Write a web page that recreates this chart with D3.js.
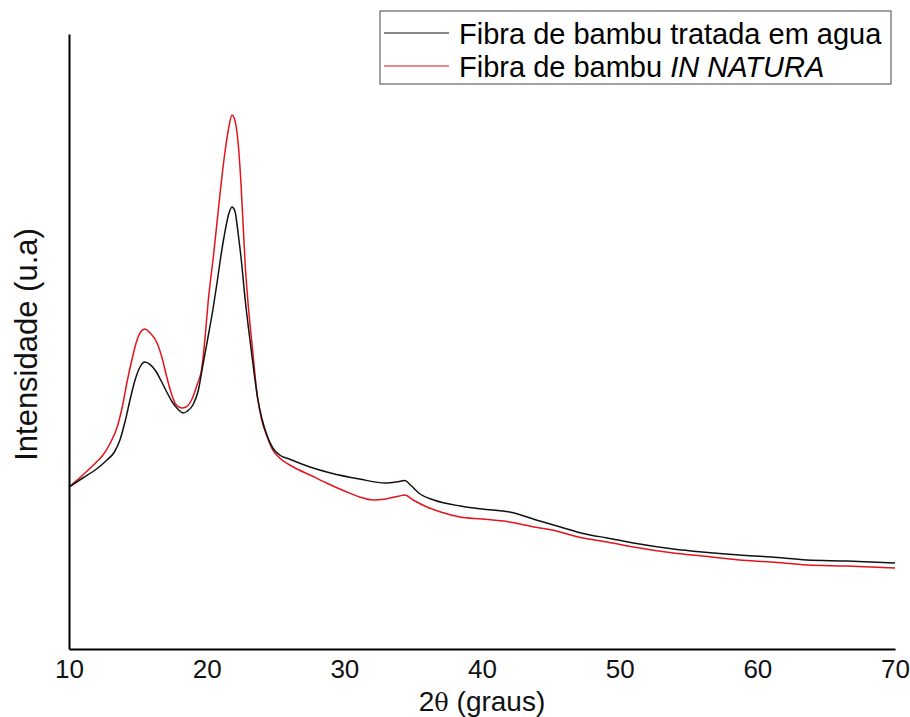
<!DOCTYPE html>
<html>
<head>
<meta charset="utf-8">
<script src="https://cdn.jsdelivr.net/npm/d3@7"></script>
<style>
    body { margin: 0; background: #fff; }
    svg { display: block; font-family: "Liberation Sans", Arial, sans-serif; }
</style>
</head>
<body>
<div id="chart"></div>
<script>
// 2θ (graus) e intensidade (u.a)
const seriesNames = ["Fibra de bambu tratada em agua", "Fibra de bambu IN NATURA"];

const aguaTheta = [10.0, 11.0, 12.0, 12.76, 13.3, 13.7, 14.1, 14.43, 14.8, 15.16, 15.5, 15.9, 16.3, 16.7, 17.1, 17.5, 17.9, 18.3, 18.6, 19.0, 19.4, 19.7, 20.1, 20.46, 20.75, 21.0, 21.3, 21.6, 21.84, 22.05, 22.3, 22.5, 22.8, 23.1, 23.4, 23.7, 24.0, 24.4, 24.8, 25.3, 26.0, 27.5, 29.0, 31.1, 33.0, 34.0, 34.4, 34.8, 35.5, 36.5, 38.4, 40.0, 42.0, 44.2, 45.7, 47.5, 49.1, 51.0, 53.9, 56.0, 58.7, 61.0, 63.6, 66.5, 70.0];
const aguaIntensity = [810, 855, 900, 945, 985, 1045, 1145, 1245, 1345, 1410, 1435, 1422, 1390, 1340, 1285, 1235, 1200, 1180, 1190, 1220, 1295, 1410, 1560, 1700, 1830, 1950, 2075, 2175, 2210, 2190, 2070, 1955, 1745, 1570, 1405, 1255, 1155, 1065, 1005, 970, 950, 910, 880, 850, 830, 838, 842, 820, 775, 745, 715, 700, 685, 640, 610, 575, 555, 530, 500, 485, 470, 460, 445, 440, 430];

const naturaTheta = [10.0, 11.0, 12.0, 12.47, 13.0, 13.5, 13.9, 14.2, 14.6, 14.94, 15.2, 15.5, 15.9, 16.4, 16.8, 17.1, 17.4, 17.7, 18.0, 18.2, 18.5, 18.9, 19.3, 19.66, 19.9, 20.1, 20.5, 21.0, 21.3, 21.6, 21.84, 22.0, 22.3, 22.5, 22.8, 23.0, 23.3, 23.7, 24.0, 24.4, 24.8, 25.3, 26.3, 27.5, 28.7, 30.0, 31.1, 32.1, 33.0, 34.0, 34.4, 35.0, 36.0, 37.0, 38.4, 40.0, 42.0, 44.2, 45.1, 47.0, 49.1, 51.0, 53.9, 56.0, 58.7, 61.0, 63.6, 66.5, 70.0];
const naturaIntensity = [810, 870, 935, 970, 1030, 1110, 1220, 1330, 1455, 1545, 1585, 1600, 1580, 1530, 1445, 1360, 1285, 1230, 1210, 1205, 1210, 1245, 1320, 1410, 1570, 1730, 1970, 2295, 2470, 2605, 2670, 2655, 2520, 2320, 1920, 1735, 1520, 1255, 1145, 1060, 995, 955, 910, 870, 830, 790, 760, 745, 750, 765, 770, 745, 710, 685, 660, 650, 635, 605, 595, 560, 535, 510, 480, 465, 445, 435, 420, 415, 405];

const xTicks = [10, 20, 30, 40, 50, 60, 70];

(() => {
    const width = 910, height = 717, margin = { top: 34, right: 15, bottom: 68, left: 69 };

    const x = d3.scaleLinear()
        .domain([10, 70])
        .range([margin.left, width - margin.right]);

    const y = d3.scaleLinear()
        .domain([0, 3075])
        .range([height - margin.bottom, margin.top]);

    const svg = d3.select("#chart")
        .append("svg")
        .attr("width", width)
        .attr("height", height);

    const series = [
        { name: seriesNames[0], color: "#111", points: aguaTheta.map((t, i) => [t, aguaIntensity[i]]) },
        { name: seriesNames[1], color: "#e3141b", points: naturaTheta.map((t, i) => [t, naturaIntensity[i]]) }
    ];

    const line = d3.line()
        .x(d => x(d[0]))
        .y(d => y(d[1]))
        .curve(d3.curveMonotoneX);

    // vermelho embaixo, preto por cima
    svg.selectAll(".serie")
        .data(series.slice().reverse())
        .enter()
        .append("path")
        .attr("class", "serie")
        .attr("d", d => line(d.points))
        .attr("fill", "none")
        .attr("stroke", d => d.color)
        .attr("stroke-width", 1.5);

    const xAxis = svg.append("g")
        .attr("transform", `translate(0,${height - margin.bottom})`)
        .call(d3.axisBottom(x).tickValues(xTicks).tickSize(0).tickSizeOuter(0).tickPadding(11));
    xAxis.select(".domain").attr("stroke", "#000").attr("stroke-width", 2);
    xAxis.selectAll("text")
        .style("font-size", "26px")
        .style("font-family", "'Liberation Sans', Arial, sans-serif")
        .attr("fill", "#111");

    const yAxis = svg.append("g")
        .attr("transform", `translate(${margin.left},0)`)
        .call(d3.axisLeft(y).tickValues([]).tickSizeOuter(0));
    yAxis.select(".domain").attr("stroke", "#000").attr("stroke-width", 2);

    const xLabel = svg.append("text")
        .attr("x", (margin.left + width - margin.right) / 2)
        .attr("y", 711)
        .attr("text-anchor", "middle")
        .style("font-size", "28px")
        .attr("fill", "#111");
    xLabel.append("tspan").text("2");
    xLabel.append("tspan").style("font-family", "'DejaVu Serif', serif").style("font-size", "24px").text("θ");
    xLabel.append("tspan").text(" (graus)");

    svg.append("text")
        .attr("transform", `translate(37,${(margin.top + height - margin.bottom) / 2 + 3}) rotate(-90)`)
        .attr("text-anchor", "middle")
        .style("font-size", "31px")
        .attr("fill", "#111")
        .text("Intensidade (u.a)");

    // legenda
    const legend = svg.append("g");
    legend.append("rect")
        .attr("x", 380).attr("y", 11)
        .attr("width", 511).attr("height", 73)
        .attr("fill", "#fff")
        .attr("stroke", "#444")
        .attr("stroke-width", 1);

    const rows = legend.selectAll(".row")
        .data(series)
        .enter()
        .append("g")
        .attr("class", "row")
        .attr("transform", (d, i) => `translate(0,${33 + i * 33})`);

    rows.append("line")
        .attr("x1", 384).attr("x2", 449)
        .attr("stroke", d => d.color)
        .attr("stroke-width", 1);

    const labels = rows.append("text")
        .attr("x", 459)
        .attr("y", 11)
        .style("font-size", "29px")
        .attr("fill", "#000");
    labels.filter((d, i) => i === 0).text(d => d.name);
    const natura = labels.filter((d, i) => i === 1);
    natura.append("tspan").text("Fibra de bambu ");
    natura.append("tspan").style("font-style", "italic").text("IN NATURA");
})();
</script>
</body>
</html>
